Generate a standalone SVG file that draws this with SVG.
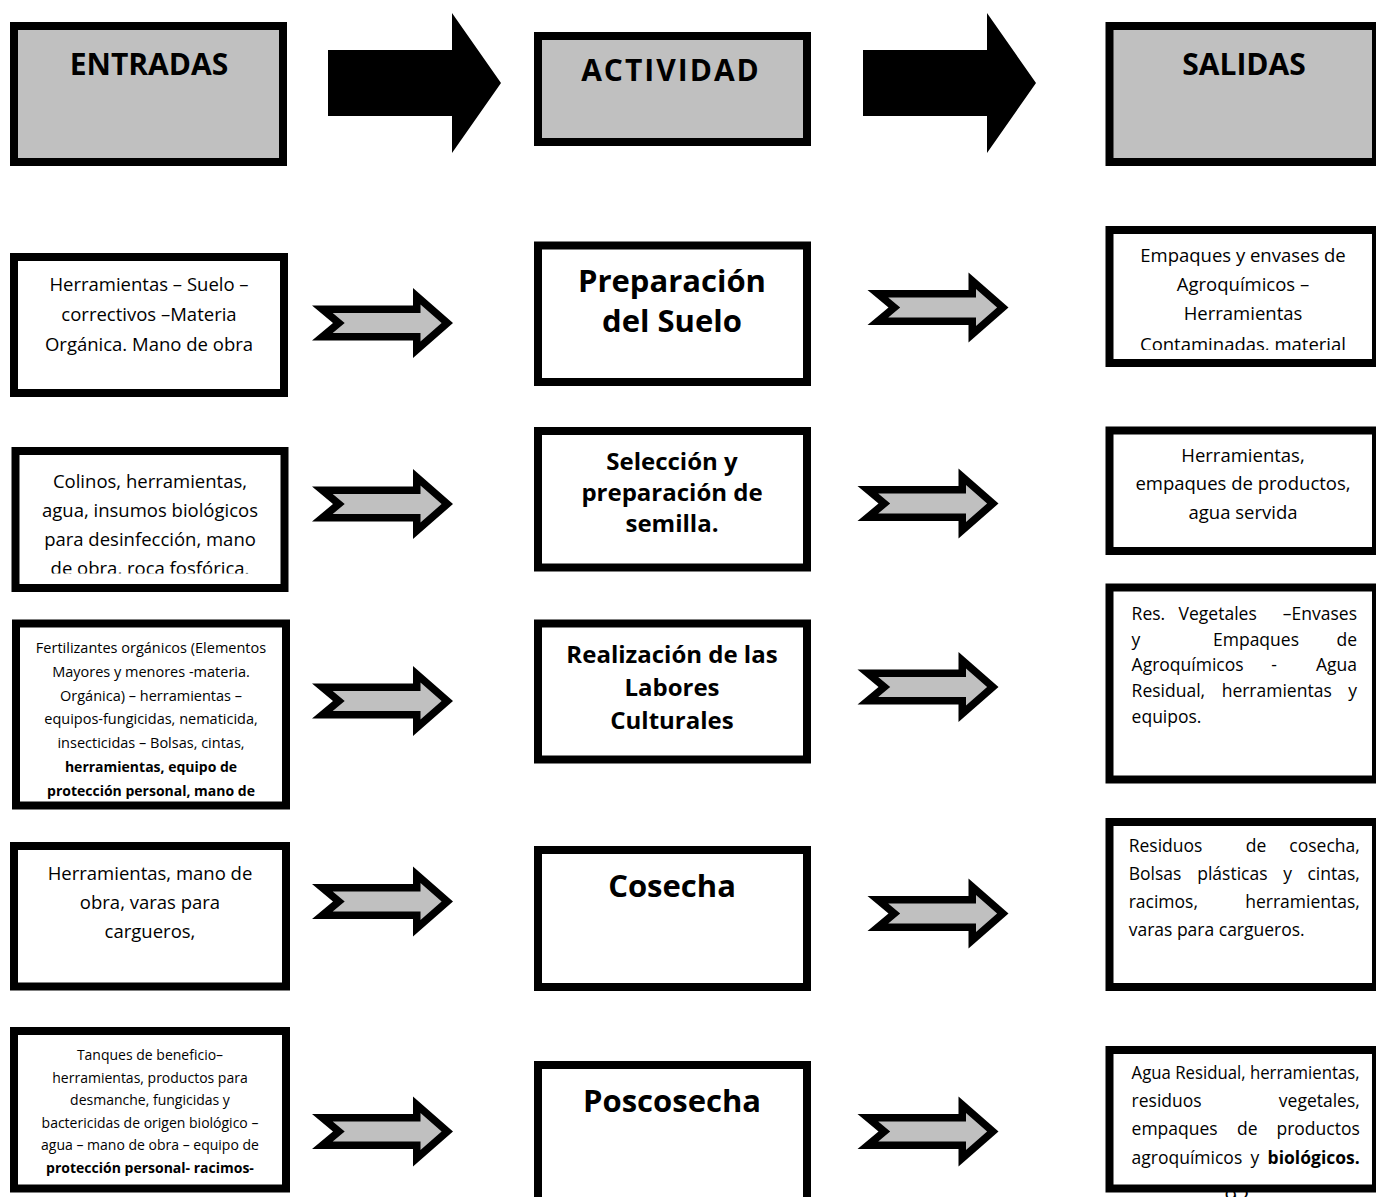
<svg xmlns="http://www.w3.org/2000/svg" width="1376" height="1197" viewBox="0 0 1376 1197">
<style>
.box{fill:#fff;stroke:#000;stroke-width:8}
.hdr{fill:#c0c0c0;stroke:#000;stroke-width:8}
.t{font-family:"Open Sans","Liberation Sans",sans-serif;fill:#000}
.c{text-anchor:middle}
.e{text-anchor:end}
.b{font-weight:bold}
.h{font-size:30px;font-weight:bold}
.s18{font-size:18.5px}
.s14{font-size:14px}
.s15{font-size:14.5px}
.sr{font-size:17.5px}
.m31{font-size:31px;font-weight:bold}
.m24{font-size:24px;font-weight:bold}
</style>
<defs>
<g id="arr">
<polygon points="0,-17.5 101,-17.5 101,-35 141,0 101,35 101,17.5 0,17.5 21,0" fill="#000"/>
<polygon points="20.7,-10 108.5,-10 108.5,-18.5 129.6,0 108.5,18.5 108.5,10 20.7,10 32.7,0" fill="#c0c0c0"/>
</g>
<clipPath id="clipR1"><rect x="1113.5" y="234" width="260" height="116"/></clipPath>
<clipPath id="clipL2"><rect x="19.5" y="455" width="261" height="118.5"/></clipPath>
</defs>

<text class="t" x="1237" y="1205" text-anchor="middle" font-size="22" fill="#222">92</text>

<g id="connectors">
<polygon points="328,50 452,50 452,13 501,83 452,153 452,116 328,116" fill="#000"/>
<polygon points="863,50 987,50 987,13 1036,83 987,153 987,116 863,116" fill="#000"/>
<use href="#arr" transform="translate(312,323)"/>
<use href="#arr" transform="translate(867.5,307.5)"/>
<use href="#arr" transform="translate(312,504)"/>
<use href="#arr" transform="translate(857.5,503.5)"/>
<use href="#arr" transform="translate(312,701)"/>
<use href="#arr" transform="translate(857.5,687)"/>
<use href="#arr" transform="translate(312,901.5)"/>
<use href="#arr" transform="translate(867.5,913.5)"/>
<use href="#arr" transform="translate(312,1131.5)"/>
<use href="#arr" transform="translate(857.5,1131.5)"/>
</g>

<g id="entradas">
<rect class="hdr" x="14" y="26" width="269" height="136"/>
<text class="t h c" x="149" y="75">ENTRADAS</text>
</g>
<g id="actividad">
<rect class="hdr" x="538" y="36" width="269" height="106"/>
<text class="t h c" x="671" y="81" letter-spacing="2">ACTIVIDAD</text>
</g>
<g id="salidas">
<rect class="hdr" x="1109.5" y="26" width="266.5" height="136"/>
<text class="t h c" x="1244" y="75">SALIDAS</text>
</g>

<g id="in1">
<rect class="box" x="14" y="257" width="270" height="136"/>
<text class="t s18 c"><tspan x="149" y="291">Herramientas – Suelo –</tspan><tspan x="149" y="321">correctivos –Materia</tspan><tspan x="149" y="350.5">Orgánica. Mano de obra</tspan></text>
</g>
<g id="act1">
<rect class="box" x="538" y="245.5" width="269" height="136.5"/>
<text class="t m31 c"><tspan x="672" y="292">Preparación</tspan><tspan x="672" y="332">del Suelo</tspan></text>
</g>
<g id="out1">
<rect class="box" x="1109.5" y="230" width="266.5" height="133"/>
<text class="t s18 c" clip-path="url(#clipR1)"><tspan x="1243" y="262">Empaques y envases de</tspan><tspan x="1243" y="291">Agroquímicos –</tspan><tspan x="1243" y="320">Herramientas</tspan><tspan x="1243" y="351">Contaminadas, material</tspan></text>
</g>

<g id="in2">
<rect class="box" x="15.5" y="451" width="269" height="137"/>
<text class="t s18 c" clip-path="url(#clipL2)"><tspan x="150" y="488">Colinos, herramientas,</tspan><tspan x="150" y="517">agua, insumos biológicos</tspan><tspan x="150" y="545.5">para desinfección, mano</tspan><tspan x="150" y="575">de obra, roca fosfórica.</tspan></text>
</g>
<g id="act2">
<rect class="box" x="538" y="431" width="269" height="136.5"/>
<text class="t m24 c"><tspan x="672" y="470">Selección y</tspan><tspan x="672" y="501">preparación de</tspan><tspan x="672" y="532">semilla.</tspan></text>
</g>
<g id="out2">
<rect class="box" x="1109.5" y="430.5" width="266.5" height="120.5"/>
<text class="t s18 c"><tspan x="1243" y="461.5">Herramientas,</tspan><tspan x="1243" y="490">empaques de productos,</tspan><tspan x="1243" y="518.5">agua servida</tspan></text>
</g>

<g id="in3">
<rect class="box" x="16" y="623.5" width="270" height="182"/>
<text class="t s15 c"><tspan x="151" y="653">Fertilizantes orgánicos (Elementos</tspan><tspan x="151" y="676.8">Mayores y menores -materia.</tspan><tspan x="151" y="700.6">Orgánica) – herramientas –</tspan><tspan x="151" y="724.4">equipos-fungicidas, nematicida,</tspan><tspan x="151" y="748.2">insecticidas – Bolsas, cintas,</tspan><tspan x="151" y="772" font-weight="bold" font-size="14px">herramientas, equipo de</tspan><tspan x="151" y="795.5" font-weight="bold" font-size="14px">protección personal, mano de</tspan></text>
</g>
<g id="act3">
<rect class="box" x="538" y="623.5" width="269" height="136"/>
<text class="t m24 c"><tspan x="672" y="663">Realización de las</tspan><tspan x="672" y="696">Labores</tspan><tspan x="672" y="729">Culturales</tspan></text>
</g>
<g id="out3">
<rect class="box" x="1109.5" y="587.5" width="266.5" height="192"/>
<g class="t sr">
<text x="1131.6" y="620">Res.</text><text x="1178.6" y="620">Vegetales</text><text class="e" x="1357" y="620">–Envases</text>
<text x="1131.6" y="645.5">y</text><text class="c" x="1256" y="645.5">Empaques</text><text class="e" x="1357" y="645.5">de</text>
<text x="1131.6" y="671">Agroquímicos</text><text class="c" x="1274" y="671">-</text><text class="e" x="1357" y="671">Agua</text>
<text x="1131.6" y="697">Residual,</text><text class="c" x="1276.7" y="697">herramientas</text><text class="e" x="1357" y="697">y</text>
<text x="1131.6" y="723">equipos.</text>
</g>
</g>

<g id="in4">
<rect class="box" x="14" y="846" width="272" height="140.5"/>
<text class="t s18 c"><tspan x="150" y="880">Herramientas, mano de</tspan><tspan x="150" y="909">obra, varas para</tspan><tspan x="150" y="938">cargueros,</tspan></text>
</g>
<g id="act4">
<rect class="box" x="538" y="850" width="269" height="137"/>
<text class="t m31 c" x="672" y="897">Cosecha</text>
</g>
<g id="out4">
<rect class="box" x="1109.5" y="822" width="266.5" height="165"/>
<g class="t sr">
<text x="1128.7" y="852">Residuos</text><text class="c" x="1256" y="852">de</text><text class="e" x="1359.8" y="852">cosecha,</text>
<text x="1128.7" y="880">Bolsas</text><text class="c" x="1232.4" y="880">plásticas</text><text class="c" x="1287.6" y="880">y</text><text class="e" x="1359.8" y="880">cintas,</text>
<text x="1128.7" y="908">racimos,</text><text class="e" x="1359.8" y="908">herramientas,</text>
<text x="1128.7" y="936">varas para cargueros.</text>
</g>
</g>

<g id="in5">
<rect class="box" x="14" y="1031" width="272" height="157.5"/>
<text class="t s14 c"><tspan x="150" y="1060">Tanques de beneficio–</tspan><tspan x="150" y="1082.6">herramientas, productos para</tspan><tspan x="150" y="1105.2">desmanche, fungicidas y</tspan><tspan x="150" y="1127.8">bactericidas de origen biológico –</tspan><tspan x="150" y="1150.4">agua – mano de obra – equipo de</tspan><tspan x="150" y="1173" font-weight="bold">protección personal- racimos-</tspan></text>
</g>
<g id="act5">
<rect class="box" x="538" y="1065" width="269" height="200"/>
<text class="t m31 c" x="672" y="1112">Poscosecha</text>
</g>
<g id="out5">
<rect class="box" x="1109.5" y="1050" width="266.5" height="138.5"/>
<g class="t sr">
<text x="1131.6" y="1078.5" textLength="228" lengthAdjust="spacingAndGlyphs">Agua Residual, herramientas,</text>
<text x="1131.6" y="1107">residuos</text><text class="e" x="1359.8" y="1107">vegetales,</text>
<text x="1131.6" y="1135">empaques</text><text class="c" x="1247.2" y="1135">de</text><text class="e" x="1359.8" y="1135">productos</text>
<text x="1131.6" y="1163.5">agroquímicos</text><text class="c" x="1255" y="1163.5">y</text><text class="e b" x="1359.8" y="1163.5">biológicos.</text>
</g>
</g>
</svg>
